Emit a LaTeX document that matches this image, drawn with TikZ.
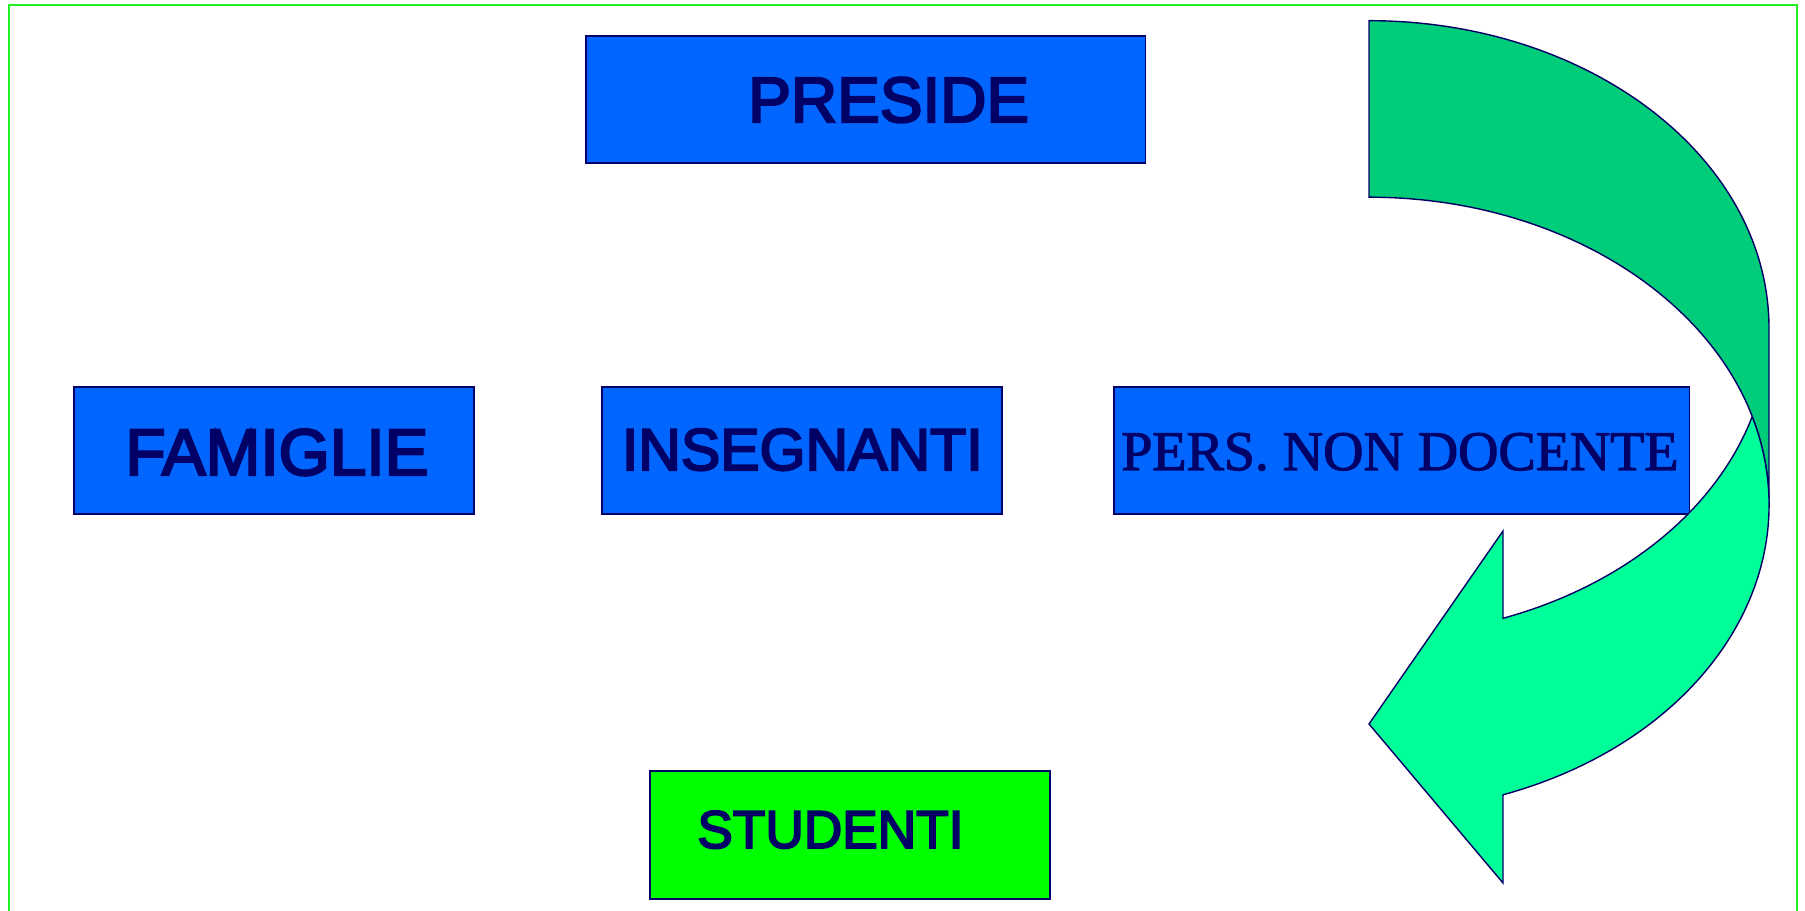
\documentclass[tikz,border=0pt]{standalone}
\usepackage{fontspec}
\setmainfont{Liberation Sans}
\newfontfamily\heavysans[FakeBold=3.5]{Liberation Sans}
\newfontfamily\timesfont[FakeBold=2]{Liberation Serif}
\usetikzlibrary{calc}
\definecolor{boxblue}{HTML}{0066FF}
\definecolor{navy}{HTML}{000066}
\definecolor{studgreen}{HTML}{00FF00}
\definecolor{framegreen}{HTML}{22F022}
\definecolor{arrowlight}{HTML}{00FF99}
\definecolor{arrowdark}{HTML}{00CC7A}

\begin{document}
\begin{tikzpicture}[x=0.02cm,y=0.02cm]
\tikzset{box/.style={draw=navy,line width=0.9pt,fill=boxblue,anchor=north west,minimum height=2.54cm,inner sep=0pt}, boxtext/.style={anchor=base west,inner sep=0pt,text=navy}, band/.style={draw=navy,line width=0.8pt}}
\useasboundingbox (0,0) rectangle (1805,911);
\draw[framegreen,line width=1.5pt] (9,0) -- (9,906) -- (1797,906) -- (1797,0);
\node[box,minimum width=11.2cm] (preside) at (585,876) {};
\node[boxtext,font=\heavysans\fontsize{36.4pt}{37pt}\selectfont] (presideT) at ($(preside.north west)+(163,-87)$) {PRESIDE};
\node[box,minimum width=8cm] (famiglie) at (73,525) {};
\node[boxtext,font=\heavysans\fontsize{37.4pt}{38pt}\selectfont] (famiglieT) at ($(famiglie.north west)+(52,-89)$) {FAMIGLIE};
\node[box,minimum width=8cm] (insegnanti) at (601,525) {};
\node[boxtext,font=\heavysans\fontsize{33.6pt}{34pt}\selectfont] (insegnantiT) at ($(insegnanti.north west)+(20.5,-84)$) {INSEGNANTI};
\node[box,minimum width=11.52cm] (personale) at (1113,525) {};
\node[boxtext,font=\timesfont\fontsize{31.8pt}{32pt}\selectfont] (personaleT) at ($(personale.north west)+(8,-84)$) {PERS. NON DOCENTE};
\node[box,fill=studgreen,minimum width=8cm,minimum height=2.56cm] (studenti) at (649,141) {};
\node[boxtext,font=\heavysans\fontsize{30.3pt}{31pt}\selectfont] (studentiT) at ($(studenti.north west)+(48,-78)$) {STUDENTI};
% back half of the curved arrow, then the front half with the head
\draw[band,fill=arrowdark] (1369,890.3) arc[start angle=90,end angle=0,x radius=400,y radius=307.7] -- (1769,406.1) arc[start angle=0,end angle=90,x radius=400,y radius=307.7] -- cycle;
\draw[band,fill=arrowlight] (1752.3,494) arc[start angle=16.6,end angle=-70.43,x radius=400,y radius=307.7] -- (1503,28) -- (1369,187) -- (1503,380) -- (1503,292.7) arc[start angle=-70.43,end angle=-16.7,x radius=400,y radius=307.7] -- cycle;
\end{tikzpicture}
\end{document}
